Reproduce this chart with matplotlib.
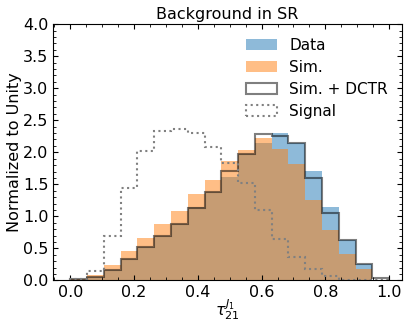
import numpy as np
import matplotlib
matplotlib.use("Agg")
import matplotlib.pyplot as plt
from matplotlib.ticker import AutoMinorLocator

# 19 equal bins on [0, 1], density-normalised heights
edges = np.linspace(0, 1, 20)
centers = 0.5 * (edges[:-1] + edges[1:])

data_h = [0.02, 0.06, 0.165, 0.34, 0.53, 0.70, 0.88, 1.14, 1.38, 1.62,
          1.97, 2.15, 2.30, 2.15, 1.71, 1.14, 0.63, 0.26, 0.01]
sim_h = [0.02, 0.086, 0.24, 0.46, 0.67, 0.88, 1.085, 1.35, 1.57, 1.866,
         2.04, 2.22, 2.05, 1.82, 1.257, 0.79, 0.42, 0.175, 0.005]
dctr_h = [0.02, 0.06, 0.165, 0.336, 0.53, 0.695, 0.877, 1.137, 1.38, 1.71,
          1.97, 2.29, 2.26, 2.14, 1.605, 1.06, 0.632, 0.258, 0.034]
signal_h = [0.02, 0.15, 0.70, 1.44, 2.02, 2.34, 2.36, 2.30, 2.09, 1.83,
            1.52, 1.10, 0.64, 0.36, 0.175, 0.075, 0.01, 0.005, 0.0]

plt.rcParams["font.size"] = 11.5

fig = plt.figure(figsize=(4.04, 3.22), dpi=100)
ax = fig.add_axes([0.132, 0.129, 0.862, 0.796])

ax.hist(centers, bins=edges, weights=data_h, color="tab:blue", alpha=0.5, label="Data")
ax.hist(centers, bins=edges, weights=sim_h, color="tab:orange", alpha=0.5, label="Sim.")
ax.hist(centers, bins=edges, weights=dctr_h, histtype="step", color="black",
        alpha=0.5, lw=1.5, label="Sim. + DCTR")
ax.hist(centers, bins=edges, weights=signal_h, histtype="step", color="gray",
        ls=":", lw=1.5, label="Signal")

ax.set_xlim(-0.053, 1.039)
ax.set_ylim(0, 4)
ax.set_xticks(np.arange(0, 1.01, 0.2))
ax.set_yticks(np.arange(0, 4.01, 0.5))
ax.xaxis.set_minor_locator(AutoMinorLocator())
ax.yaxis.set_minor_locator(AutoMinorLocator())
ax.tick_params(which="both", direction="in", top=True, right=True)

ax.set_title("Background in SR", fontsize=11.5, pad=4)
ax.set_xlabel(r"$\tau_{21}^{J_1}$", labelpad=-2)
ax.set_ylabel("Normalized to Unity", labelpad=1)
ax.legend(loc="upper right", frameon=False, labelspacing=0.45, fontsize=11)

fig.savefig("out.png", dpi=100)
